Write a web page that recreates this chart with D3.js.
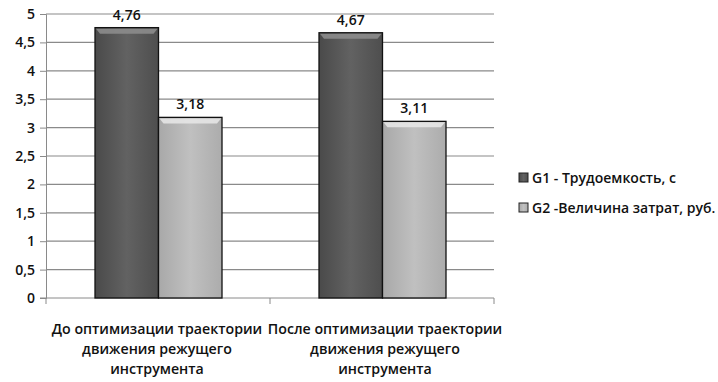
<!DOCTYPE html>
<html><head><meta charset="utf-8">
<script src="https://cdn.jsdelivr.net/npm/d3@7"></script>
<style>body{margin:0;background:#fff}</style>
</head><body>
<svg id="c" width="718" height="382"></svg>
<script>
const categories = [
  ["До оптимизации траектории","движения режущего","инструмента"],
  ["После оптимизации траектории","движения режущего","инструмента"]
];
const seriesNames = ["G1 - Трудоемкость, с", "G2 -Величина затрат, руб."];
const g1 = [4.76, 4.67];
const g2 = [3.18, 3.11];
const valueLabels = [["4,76","4,67"],["3,18","3,11"]];
const yTicks = [0,0.5,1,1.5,2,2.5,3,3.5,4,4.5,5];

(function(){
const svg = d3.select("#c");
const font = "'Open Sans', sans-serif";
const defs = svg.append("defs");
function grad(id, stops){
  const g = defs.append("linearGradient").attr("id",id).attr("x1",0).attr("x2",1).attr("y1",0).attr("y2",0);
  stops.forEach(s=>g.append("stop").attr("offset",s[0]).attr("stop-color",s[1]));
}
grad("gd",[[0,"#4a4a4a"],[0.5,"#626262"],[1,"#4e4e4e"]]);
grad("gl",[[0,"#a8a8a8"],[0.5,"#c0c0c0"],[1,"#acacac"]]);

const pL=46, pR=494, pT=14, pB=298;
const y = d3.scaleLinear().domain([0,5]).range([pB,pT]);
const x0 = d3.scaleBand().domain([0,1]).range([pL,pR]);
const x1 = d3.scaleBand().domain([0,1]).range([49,176]);

svg.append("g").selectAll("line").data(yTicks.filter(d=>d>0)).join("line")
  .attr("x1",pL).attr("x2",pR).attr("y1",d=>y(d)).attr("y2",d=>y(d))
  .attr("stroke","#8a8a8a").attr("stroke-width",1.2);

const yAxis = d3.axisLeft(y).tickValues(yTicks).tickSize(6).tickFormat(d=>String(d).replace(".",","));
const ya = svg.append("g").attr("transform",`translate(${pL},0)`).call(yAxis);
ya.select(".domain").attr("stroke","#8a8a8a");
ya.selectAll(".tick line").attr("stroke","#8a8a8a");
ya.selectAll("text").attr("font-family",font).attr("font-size",14).attr("font-weight",600).attr("fill","#111").attr("x",-11);

const xa = svg.append("g");
xa.append("line").attr("x1",pL-6).attr("x2",pR).attr("y1",pB).attr("y2",pB).attr("stroke","#8a8a8a");
[pL, x0(1), pR].forEach(v=>xa.append("line").attr("x1",v).attr("x2",v).attr("y1",pB).attr("y2",pB+6).attr("stroke","#8a8a8a"));

const series = [g1,g2];
const fills = ["url(#gd)","url(#gl)"];
const tops = ["#8c8c8c","#e6e6e6"];
series.forEach((s,si)=>{
  s.forEach((v,ci)=>{
    const bx = x0(ci)+x1(si), bw = x1.bandwidth(), by = y(v), bh = pB-by;
    svg.append("rect").attr("x",bx).attr("y",by).attr("width",bw).attr("height",bh)
      .attr("fill",fills[si]).attr("stroke","#111").attr("stroke-width",1.3);
    svg.append("path").attr("d",`M${bx+1},${by+1}L${bx+bw-1},${by+1}L${bx+bw-5},${by+6}L${bx+5},${by+6}Z`)
      .attr("fill",tops[si]).attr("opacity",0.9);
    svg.append("text").attr("x",bx+bw/2).attr("y",by-8).attr("text-anchor","middle")
      .attr("font-family",font).attr("font-size",14).attr("font-weight",600).attr("fill","#111").text(valueLabels[si][ci]);
  });
});

categories.forEach((lines,ci)=>{
  const t = svg.append("text").attr("text-anchor","middle").attr("font-family",font).attr("font-size",14.2).attr("font-weight",600).attr("fill","#111");
  lines.forEach((l,li)=>t.append("tspan").attr("x",x0(ci)+x0.bandwidth()/2+(ci?3:-1)).attr("y",334+li*20).text(l));
});

seriesNames.forEach((n,i)=>{
  const ly = 178+i*30;
  svg.append("rect").attr("x",519).attr("y",ly-5).attr("width",9).attr("height",9)
    .attr("fill",fills[i]).attr("stroke","#222").attr("stroke-width",1);
  svg.append("text").attr("x",532).attr("y",ly+5).attr("font-family",font).attr("font-size",14).attr("font-weight",600).attr("fill","#111").text(n);
});
})();
</script>
</body></html>
